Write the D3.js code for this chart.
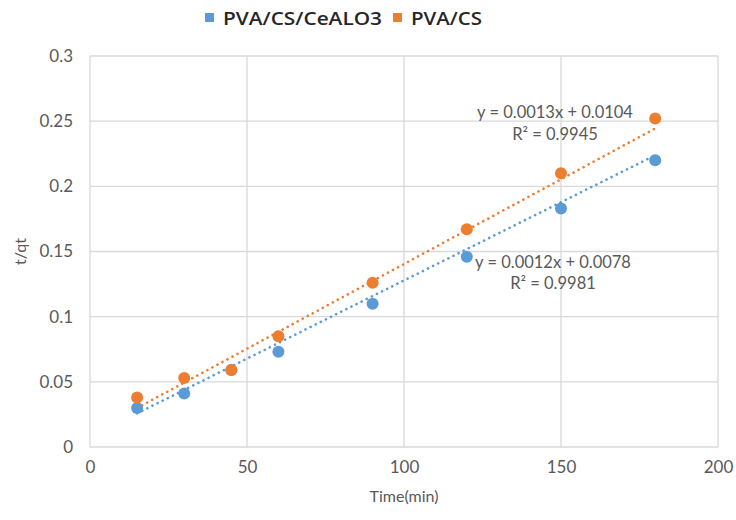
<!DOCTYPE html>
<html>
<head>
<meta charset="utf-8">
<script src="https://cdn.jsdelivr.net/npm/d3@7"></script>
<style>
  html, body { margin: 0; padding: 0; background: #fff; }
  svg { display: block; font-family: "Open Sans", "Liberation Sans", sans-serif; }
</style>
</head>
<body>
<svg id="chart" width="736" height="520"></svg>
<script>
// Kinetic data: time (min) vs t/qt for the two membranes
const times = [15, 30, 45, 60, 90, 120, 150, 180];
const seriesNames = ["PVA/CS/CeALO3", "PVA/CS"];
const ceValues = [0.030, 0.041, 0.059, 0.073, 0.110, 0.146, 0.183, 0.220];
const csValues = [0.038, 0.053, 0.059, 0.085, 0.126, 0.167, 0.210, 0.252];
const slopes = [0.0012, 0.0013];
const intercepts = [0.0078, 0.0104];
const r2Values = ["0.9981", "0.9945"];
const xTicks = [0, 50, 100, 150, 200];
const yTicks = [0, 0.05, 0.1, 0.15, 0.2, 0.25, 0.3];
const colors = ["#5B9BD5", "#ED7D31"];

const svg = d3.select("#chart");
const margin = { left: 90, right: 18, top: 56, bottom: 73 };
const W = 736, H = 520;
const labelFont = "Lato, 'Open Sans', sans-serif";

const x = d3.scaleLinear().domain([0, 200]).range([margin.left, W - margin.right]);
const y = d3.scaleLinear().domain([0, 0.3]).range([H - margin.bottom, margin.top]);

// gridlines
const grid = svg.append("g");
grid.selectAll("line.h").data(yTicks).join("line")
  .attr("x1", x(0)).attr("x2", x(200))
  .attr("y1", d => y(d)).attr("y2", d => y(d))
  .attr("stroke", "#d9d9d9").attr("stroke-width", 1.3);
grid.selectAll("line.v").data(xTicks).join("line")
  .attr("y1", y(0)).attr("y2", y(0.3))
  .attr("x1", d => x(d)).attr("x2", d => x(d))
  .attr("stroke", "#d9d9d9").attr("stroke-width", 1.3);

// axes (labels only)
const xAxis = svg.append("g").attr("transform", `translate(0,${y(0)})`)
  .call(d3.axisBottom(x).tickValues(xTicks).tickSize(0).tickPadding(14).tickFormat(d3.format("d")));
const yAxis = svg.append("g").attr("transform", `translate(${x(0)},0)`)
  .call(d3.axisLeft(y).tickValues(yTicks).tickSize(0).tickPadding(17).tickFormat(d => String(+d.toFixed(2))));
[xAxis, yAxis].forEach(g => {
  g.select(".domain").remove();
  g.selectAll("text").attr("fill", "#595959").style("font-size", "17px")
    .style("font-family", labelFont);
});

// axis titles
svg.append("text").attr("x", x(100)).attr("y", 502).attr("text-anchor", "middle")
  .attr("fill", "#595959").style("font-size", "16px")
  .style("font-family", labelFont).text("Time(min)");
svg.append("text").attr("transform", `translate(26,${y(0.15)}) rotate(-90)`)
  .attr("text-anchor", "middle").attr("fill", "#595959").style("font-size", "16px")
  .style("font-family", labelFont).text("t/qt");

// trendlines
const allValues = [ceValues, csValues];
const lineGen = d3.line().x(d => x(d[0])).y(d => y(d[1]));
[0, 1].forEach(i => {
  const x0 = d3.min(times), x1 = d3.max(times);
  const pts = [[x0, slopes[i] * x0 + intercepts[i]], [x1, slopes[i] * x1 + intercepts[i]]];
  svg.append("path").attr("d", lineGen(pts))
    .attr("fill", "none").attr("stroke", colors[i]).attr("stroke-width", 2.6)
    .attr("stroke-linecap", "round").attr("stroke-dasharray", "0.1 5.6");
});

// markers: second series drawn over the first
[0, 1].forEach(i => {
  svg.append("g").selectAll("circle").data(times.map((t, k) => [t, allValues[i][k]])).join("circle")
    .attr("cx", d => x(d[0])).attr("cy", d => y(d[1])).attr("r", 6)
    .attr("fill", colors[i]);
});

// trendline equations
const eqPos = [
  { cx: 553, y1: 268, y2: 289 },
  { cx: 555, y1: 118, y2: 140 }
];
[0, 1].forEach(i => {
  const sign = intercepts[i] >= 0 ? "+" : "-";
  svg.append("text").attr("x", eqPos[i].cx).attr("y", eqPos[i].y1).attr("text-anchor", "middle")
    .attr("fill", "#595959").style("font-size", "16.5px").style("font-family", labelFont)
    .text(`y = ${slopes[i].toFixed(4)}x ${sign} ${Math.abs(intercepts[i]).toFixed(4)}`);
  svg.append("text").attr("x", eqPos[i].cx).attr("y", eqPos[i].y2).attr("text-anchor", "middle")
    .attr("fill", "#595959").style("font-size", "16.5px").style("font-family", labelFont)
    .text(`R² = ${r2Values[i]}`);
});

// legend
const legend = svg.append("g").attr("transform", "translate(0,25)");
const legendX = [205, 393];
const legendW = [159, 71];
seriesNames.forEach((name, i) => {
  legend.append("rect").attr("x", legendX[i]).attr("y", -12).attr("width", 9).attr("height", 9)
    .attr("fill", colors[i]);
  legend.append("text").attr("x", legendX[i] + 18).attr("y", 0)
    .attr("fill", "#262626").style("font-size", "18px").style("font-weight", "600")
    .style("font-family", "'Open Sans', sans-serif")
    .attr("textLength", legendW[i]).attr("lengthAdjust", "spacingAndGlyphs")
    .text(name);
});
</script>
</body>
</html>
